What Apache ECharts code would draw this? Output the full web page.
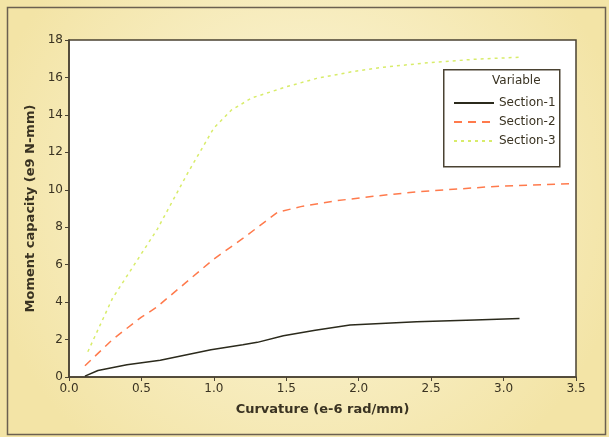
<!DOCTYPE html>
<html>
<head>
<meta charset="utf-8">
<script src="https://cdn.jsdelivr.net/npm/echarts@6/dist/echarts.min.js"></script>
<style>
  html, body { margin: 0; padding: 0; background: #f6ebb8; }
  #chart { width: 609px; height: 437px; }
</style>
</head>
<body>
<div id="chart"></div>
<script>
// curvature (e-6 rad/mm) vs moment capacity (e9 N-mm)
var section1 = [
  [0.11, 0.05], [0.2, 0.35], [0.4, 0.65], [0.63, 0.9], [0.98, 1.45],
  [1.2, 1.72], [1.3, 1.85], [1.48, 2.2], [1.7, 2.5], [1.94, 2.78],
  [2.4, 2.95], [2.8, 3.05], [3.11, 3.13]
];
var section2 = [
  [0.11, 0.6], [0.3, 2.0], [0.5, 3.2], [0.6, 3.7], [0.8, 5.0],
  [1.0, 6.3], [1.2, 7.4], [1.44, 8.8], [1.6, 9.1], [1.83, 9.4],
  [2.1, 9.65], [2.41, 9.9], [2.7, 10.05], [2.98, 10.2], [3.46, 10.32]
];
var section3 = [
  [0.13, 1.35], [0.3, 4.2], [0.61, 7.9], [0.82, 10.9], [1.0, 13.3],
  [1.12, 14.25], [1.26, 14.9], [1.5, 15.5], [1.71, 15.95], [1.95, 16.3],
  [2.17, 16.55], [2.5, 16.8], [2.8, 16.97], [3.11, 17.08]
];
var seriesNames = ['Section-1', 'Section-2', 'Section-3'];
var seriesColors = ['#2b2a1c', '#ff7a4c', '#d8ec6a'];

var chart = echarts.init(document.getElementById('chart'));
var txt = '#3a3322';

var option = {
  backgroundColor: {
    type: 'radial', x: 0.5, y: 0.45, r: 0.75,
    colorStops: [
      { offset: 0, color: '#fcf7de' },
      { offset: 1, color: '#f3e4a6' }
    ]
  },
  animation: false,
  grid: {
    left: 69, right: 33, top: 40, bottom: 60,
    show: true,
    backgroundColor: '#ffffff',
    borderColor: '#4a4232',
    borderWidth: 1.5
  },
  xAxis: {
    type: 'value',
    min: 0, max: 3.5, interval: 0.5,
    name: 'Curvature (e-6 rad/mm)',
    nameLocation: 'middle',
    nameGap: 26,
    nameTextStyle: { fontFamily: 'DejaVu Sans', fontWeight: 'bold', fontSize: 13, color: txt },
    axisLine: { lineStyle: { color: '#4a4232', width: 1.5 } },
    axisTick: { inside: false, length: 4, lineStyle: { color: '#4a4232' } },
    axisLabel: {
      formatter: function (v) { return v.toFixed(1); },
      fontFamily: 'DejaVu Sans', fontSize: 12, color: txt, margin: 6
    },
    splitLine: { show: false }
  },
  yAxis: {
    type: 'value',
    min: 0, max: 18, interval: 2,
    name: 'Moment capacity (e9 N-mm)',
    nameLocation: 'middle',
    nameGap: 32,
    nameTextStyle: { fontFamily: 'DejaVu Sans', fontWeight: 'bold', fontSize: 13, color: txt },
    axisLine: { show: true, lineStyle: { color: '#4a4232', width: 1.5 } },
    axisTick: { show: true, inside: false, length: 4, lineStyle: { color: '#4a4232' } },
    axisLabel: { fontFamily: 'DejaVu Sans', fontSize: 12, color: txt, margin: 6 },
    splitLine: { show: false }
  },
  legend: {
    orient: 'vertical',
    left: 448, top: 92,
    itemWidth: 40, itemHeight: 12, itemGap: 7,
    z: 60,
    itemStyle: { opacity: 0 },
    textStyle: { fontFamily: 'DejaVu Sans', fontSize: 12, color: txt },
    data: seriesNames
  },
  graphic: [
    {
      type: 'rect', left: 5, top: 5,
      shape: { width: 598, height: 427 },
      style: { fill: 'none', stroke: '#6b6050', lineWidth: 1.5 },
      silent: true
    },
    {
      type: 'rect', left: 443, top: 69,
      shape: { width: 116, height: 97 },
      style: { fill: '#ffffff', stroke: '#4a4232', lineWidth: 1.5 },
      z: 50, silent: true
    },
    {
      type: 'text', left: 492, top: 75,
      style: { text: 'Variable', font: '12px "DejaVu Sans"', fill: txt },
      z: 51, silent: true
    }
  ],
  series: [section1, section2, section3].map(function (d, i) {
    return {
      name: seriesNames[i],
      type: 'line',
      data: d,
      symbol: 'none',
      smooth: false,
      lineStyle: {
        color: seriesColors[i],
        width: 1.5,
        type: i === 0 ? 'solid' : (i === 1 ? [8, 6] : [3, 4])
      },
      itemStyle: { color: seriesColors[i] }
    };
  })
};

chart.setOption(option);
</script>
</body>
</html>
